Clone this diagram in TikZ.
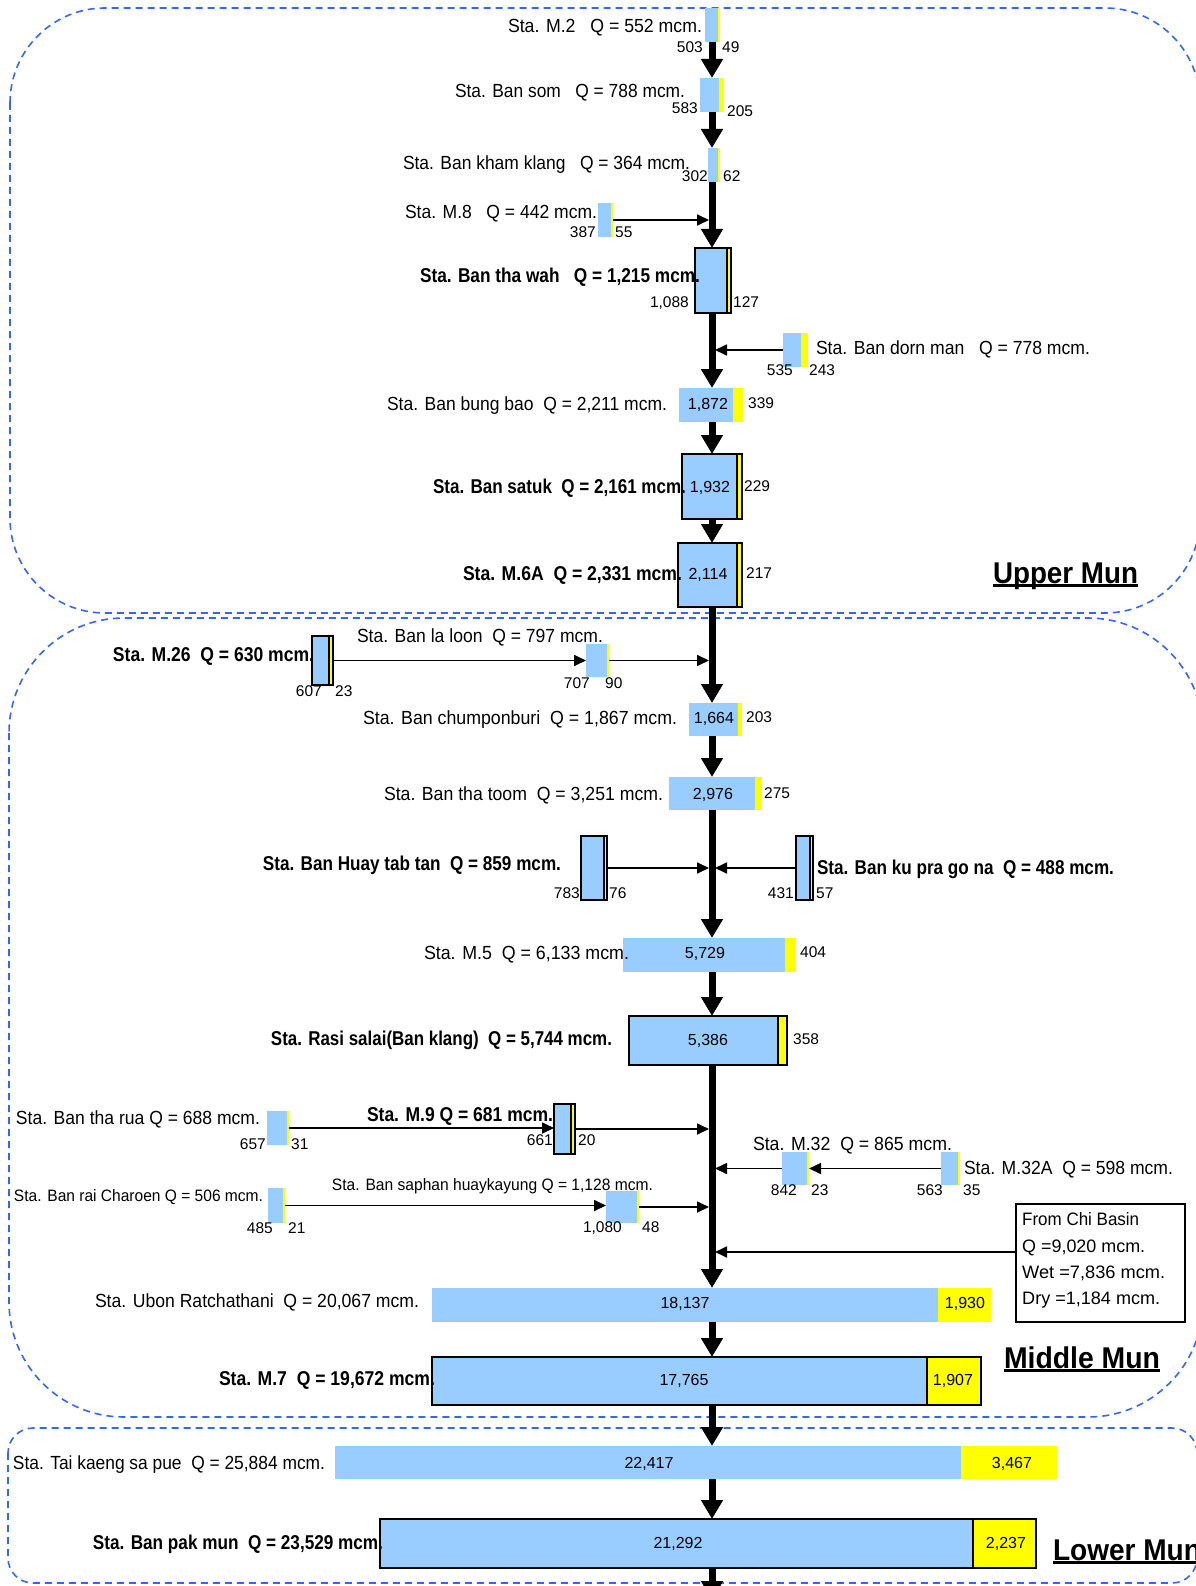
\documentclass[tikz,border=0pt]{standalone}
\usepackage{fontspec}
\setmainfont{Liberation Sans}
\usetikzlibrary{arrows.meta}
\definecolor{barblue}{RGB}{153,204,255}
\definecolor{baryellow}{RGB}{255,255,0}
\definecolor{dashblue}{RGB}{51,102,255}
\newcommand{\fitw}[2]{\resizebox{#1pt}{\height}{#2}}
\newcommand{\flowbox}[7]{%
  \pgfmathsetmacro{\fbA}{(#3+#4)/2}%
  \pgfmathsetmacro{\fbB}{(#6+#7)/2}%
  \pgfmathsetmacro{\fbW}{#4-#3}%
  \pgfmathsetmacro{\fbV}{#5-#4}%
  \pgfmathsetmacro{\fbC}{(#4+#5)/2}%
  \pgfmathsetmacro{\fbH}{#7-#6}%
  \node[bluepart,#2,minimum width=\fbW pt,minimum height=\fbH pt] (#1) at (\fbA,\fbB) {};
  \node[yellowpart,#2,minimum width=\fbV pt,minimum height=\fbH pt] (#1y) at (\fbC,\fbB) {};
}
\tikzset{
  bluepart/.style={rectangle, fill=barblue, inner sep=0pt, outer sep=0pt},
  yellowpart/.style={rectangle, fill=baryellow, inner sep=0pt, outer sep=0pt},
  plainbar/.style={},
  outlined/.style={draw=black, line width=2.2pt},
  lbl/.style={inner sep=0pt, anchor=mid, yshift=-2.5pt, font=\fontsize{19}{22}\selectfont},
  blbl/.style={inner sep=0pt, anchor=mid, yshift=-2.5pt, font=\fontsize{20}{23}\selectfont\bfseries},
  slbl/.style={inner sep=0pt, anchor=mid, yshift=-2.5pt, font=\fontsize{16.5}{19}\selectfont},
  chilbl/.style={inner sep=0pt, anchor=mid west, yshift=-3pt, font=\fontsize{18}{21}\selectfont},
  sidenum/.style={inner sep=0pt, yshift=-1pt, font=\fontsize{15.5}{18}\selectfont},
  barnum/.style={inner sep=0pt, anchor=mid, yshift=-1.5pt, font=\fontsize{16}{18}\selectfont},
  spinearr/.style={line width=7pt, -{Triangle[width=21pt,length=19pt]}},
  thinarr/.style={line width=1.7pt, -{Triangle[width=11pt,length=12pt]}},
  regionline/.style={draw=dashblue, line width=1.6pt, dash pattern=on 7pt off 5pt},
  regionlbl/.style={inner sep=0pt, anchor=mid, yshift=-5pt, font=\fontsize{30}{34}\selectfont\bfseries},
}
\begin{document}
\begin{tikzpicture}[x=1pt,y=-1pt]
\fill[white] (0,0) rectangle (1195,1586);
\useasboundingbox (0,0) rectangle (1195,1586);

% region boxes
\draw[regionline, rounded corners=95pt] (10,8) rectangle (1200,613);
\draw[regionline, rounded corners=115pt] (9,618) rectangle (1203,1417);
\draw[regionline, rounded corners=25pt] (8,1428) rectangle (1197,1583);

\coordinate (sx) at (712,0);

% bars
\flowbox{m2}{plainbar}{705}{718}{720}{8}{42}
\flowbox{bansom}{plainbar}{700}{719}{724}{78}{112}
\flowbox{khamklang}{plainbar}{708}{718}{720}{148}{182}
\flowbox{m8}{plainbar}{598}{611}{613}{203}{237}
\flowbox{thawah}{outlined}{695}{727}{731}{248}{313}
\flowbox{dornman}{plainbar}{783}{801}{808}{333}{367}
\flowbox{bungbao}{plainbar}{679}{733}{743}{388}{422}
\flowbox{satuk}{outlined}{682}{737}{742}{454}{519}
\flowbox{msixa}{outlined}{678}{737}{742}{543}{607}
\flowbox{m26}{outlined}{312}{329}{333}{636}{685}
\flowbox{laloon}{plainbar}{586}{607}{609}{644}{677}
\flowbox{chumpon}{plainbar}{689}{738}{742}{703}{736}
\flowbox{thatoom}{plainbar}{669}{755}{762}{777}{810}
\flowbox{huay}{outlined}{581}{604}{607}{836}{900}
\flowbox{kupra}{outlined}{796}{810}{813}{836}{900}
\flowbox{mfive}{plainbar}{623}{785}{796}{938}{972}
\flowbox{rasi}{outlined}{629}{778}{787}{1016}{1065}
\flowbox{tharua}{plainbar}{267}{287}{289}{1111}{1145}
\flowbox{mnine}{outlined}{554}{571}{575}{1104}{1154}
\flowbox{raich}{plainbar}{268}{283}{285}{1188}{1223}
\flowbox{saphan}{plainbar}{606}{637}{639}{1191}{1223}
\flowbox{m32}{plainbar}{782}{807}{809}{1152}{1185}
\flowbox{m32a}{plainbar}{941}{958}{960}{1152}{1185}
\flowbox{ubon}{plainbar}{432}{938}{991}{1288}{1322}
\flowbox{mseven}{outlined}{432}{927}{981}{1357}{1405}
\flowbox{taikaeng}{plainbar}{335}{961}{1057}{1446}{1479}
\flowbox{pakmun}{outlined}{380}{973}{1036}{1519}{1568}

% Chi basin box
\node[draw=black, line width=1.8pt, minimum width=169pt, minimum height=118pt, inner sep=0pt] (chi) at (1100.5,1263) {};
\node[chilbl] (chi1) at (1022,1220) {\fitw{117}{From Chi Basin}};
\node[chilbl] (chi2) at (1022,1247) {\fitw{123}{Q =9,020 mcm.}};
\node[chilbl] (chi3) at (1022,1273) {\fitw{143}{Wet =7,836 mcm.}};
\node[chilbl] (chi4) at (1022,1299) {\fitw{138}{Dry =1,184 mcm.}};

% spine arrows
\coordinate (endc) at (712,1600);
\draw[spinearr] (m2.south -| sx) -- (bansom.north -| sx);
\draw[spinearr] (bansom.south -| sx) -- (khamklang.north -| sx);
\draw[spinearr] (khamklang.south -| sx) -- (thawah.north -| sx);
\draw[spinearr] (thawah.south -| sx) -- (bungbao.north -| sx);
\draw[spinearr] (bungbao.south -| sx) -- (satuk.north -| sx);
\draw[spinearr] (satuk.south -| sx) -- (msixa.north -| sx);
\draw[spinearr] (msixa.south -| sx) -- (chumpon.north -| sx);
\draw[spinearr] (chumpon.south -| sx) -- (thatoom.north -| sx);
\draw[spinearr] (thatoom.south -| sx) -- (mfive.north -| sx);
\draw[spinearr] (mfive.south -| sx) -- (rasi.north -| sx);
\draw[spinearr] (rasi.south -| sx) -- (ubon.north -| sx);
\draw[spinearr] (ubon.south -| sx) -- (mseven.north -| sx);
\draw[spinearr] (mseven.south -| sx) -- (taikaeng.north -| sx);
\draw[spinearr] (taikaeng.south -| sx) -- (pakmun.north -| sx);
\draw[spinearr] (pakmun.south -| sx) -- (endc);

% tributary arrows
\draw[thinarr, shorten >=3pt] (m8y.east) -- (m8y.east -| sx);
\draw[thinarr, shorten >=3pt] (dornman.west) -- (dornman.west -| sx);
\draw[thinarr] (m26y.east) -- (m26y.east -| laloon.west);
\draw[thinarr, shorten >=3pt] (laloony.east) -- (laloony.east -| sx);
\draw[thinarr, shorten >=3pt] (huayy.east) -- (huayy.east -| sx);
\draw[thinarr, shorten >=3pt] (kupra.west) -- (kupra.west -| sx);
\draw[thinarr] (tharuay.east) -- (tharuay.east -| mnine.west);
\draw[thinarr, shorten >=3pt] (mniney.east) -- (mniney.east -| sx);
\draw[thinarr] (raichy.east) -- (raichy.east -| saphan.west);
\draw[thinarr, shorten >=3pt] (saphany.east) -- (saphany.east -| sx);
\draw[thinarr] (m32a.west) -- (m32a.west -| m32y.east);
\draw[thinarr, shorten >=3pt] (m32.west) -- (m32.west -| sx);
\draw[thinarr, shorten >=3pt] ([yshift=11pt]chi.west) -- ([yshift=11pt]chi.west -| sx);

% station labels
\node[lbl] (lm2) at (605,27) {\fitw{194}{Sta. M.2~~ Q = 552 mcm.}};
\node[lbl] (lbansom) at (570,92) {\fitw{230}{Sta. Ban som~~ Q = 788 mcm.}};
\node[lbl] (lkham) at (546.5,164) {\fitw{287}{Sta. Ban kham klang~~ Q = 364 mcm.}};
\node[lbl] (lm8) at (501,213) {\fitw{192}{Sta. M.8~~ Q = 442 mcm.}};
\node[blbl] (lthawah) at (560,277) {\fitw{280}{Sta. Ban tha wah~~ Q = 1,215 mcm.}};
\node[lbl] (ldorn) at (953,349) {\fitw{274}{Sta. Ban dorn man~~ Q = 778 mcm.}};
\node[lbl] (lbung) at (527,405) {\fitw{280}{Sta. Ban bung bao~ Q = 2,211 mcm.}};
\node[blbl] (lsatuk) at (559.5,488) {\fitw{253}{Sta. Ban satuk~ Q = 2,161 mcm.}};
\node[blbl] (lm6a) at (572.5,575) {\fitw{219}{Sta. M.6A~ Q = 2,331 mcm.}};
\node[blbl] (lm26) at (213.5,656) {\fitw{201}{Sta. M.26~ Q = 630 mcm.}};
\node[lbl] (llaloon) at (480,637) {\fitw{246}{Sta. Ban la loon~ Q = 797 mcm.}};
\node[lbl] (lchum) at (520,719) {\fitw{314}{Sta. Ban chumponburi~ Q = 1,867 mcm.}};
\node[lbl] (ltoom) at (523.5,795) {\fitw{279}{Sta. Ban tha toom~ Q = 3,251 mcm.}};
\node[blbl] (lhuay) at (412,865) {\fitw{298}{Sta. Ban Huay tab tan~ Q = 859 mcm.}};
\node[blbl] (lkupra) at (965.5,869) {\fitw{297}{Sta. Ban ku pra go na~ Q = 488 mcm.}};
\node[lbl] (lm5) at (526.5,954) {\fitw{205}{Sta. M.5~ Q = 6,133 mcm.}};
\node[blbl] (lrasi) at (441.5,1040) {\fitw{341}{Sta. Rasi salai(Ban klang)~ Q = 5,744 mcm.}};
\node[lbl] (ltharua) at (138,1119) {\fitw{244}{Sta. Ban tha rua Q = 688 mcm.}};
\node[blbl] (lm9) at (460,1116) {\fitw{186}{Sta. M.9 Q = 681 mcm.}};
\node[slbl] (lraich) at (138.5,1196) {\fitw{249}{Sta. Ban rai Charoen Q = 506 mcm.}};
\node[slbl] (lsaphan) at (492.5,1185) {\fitw{321}{Sta. Ban saphan huaykayung Q = 1,128 mcm.}};
\node[lbl] (lm32) at (852.5,1145) {\fitw{199}{Sta. M.32~ Q = 865 mcm.}};
\node[lbl] (lm32a) at (1068.5,1169) {\fitw{209}{Sta. M.32A~ Q = 598 mcm.}};
\node[lbl] (lubon) at (257,1302) {\fitw{324}{Sta. Ubon Ratchathani~ Q = 20,067 mcm.}};
\node[blbl] (lm7) at (327,1380) {\fitw{216}{Sta. M.7~ Q = 19,672 mcm.}};
\node[lbl] (ltai) at (169,1464) {\fitw{312}{Sta. Tai kaeng sa pue~ Q = 25,884 mcm.}};
\node[blbl] (lpak) at (238,1544) {\fitw{290}{Sta. Ban pak mun~ Q = 23,529 mcm.}};

% side numbers
\node[sidenum, anchor=mid east] at (703,49) {503};
\node[sidenum, anchor=mid west] at (722,49) {49};
\node[sidenum, anchor=mid east] at (698,110) {583};
\node[sidenum, anchor=mid west] at (727,113) {205};
\node[sidenum, anchor=mid east] at (708,178) {302};
\node[sidenum, anchor=mid west] at (723,178) {62};
\node[sidenum, anchor=mid east] at (596,234) {387};
\node[sidenum, anchor=mid west] at (615,234) {55};
\node[sidenum, anchor=mid east] at (689,304) {1,088};
\node[sidenum, anchor=mid west] at (733,304) {127};
\node[sidenum, anchor=mid east] at (793,372) {535};
\node[sidenum, anchor=mid west] at (809,372) {243};
\node[sidenum, anchor=mid west] at (748,405) {339};
\node[sidenum, anchor=mid west] at (744,488) {229};
\node[sidenum, anchor=mid west] at (746,575) {217};
\node[sidenum, anchor=mid east] at (322,693) {607};
\node[sidenum, anchor=mid west] at (335,693) {23};
\node[sidenum, anchor=mid east] at (590,685) {707};
\node[sidenum, anchor=mid west] at (605,685) {90};
\node[sidenum, anchor=mid west] at (746,719) {203};
\node[sidenum, anchor=mid west] at (764,795) {275};
\node[sidenum, anchor=mid east] at (580,895) {783};
\node[sidenum, anchor=mid west] at (609,895) {76};
\node[sidenum, anchor=mid east] at (794,895) {431};
\node[sidenum, anchor=mid west] at (816,895) {57};
\node[sidenum, anchor=mid west] at (800,954) {404};
\node[sidenum, anchor=mid west] at (793,1041) {358};
\node[sidenum, anchor=mid east] at (266,1146) {657};
\node[sidenum, anchor=mid west] at (291,1146) {31};
\node[sidenum, anchor=mid east] at (553,1142) {661};
\node[sidenum, anchor=mid west] at (578,1142) {20};
\node[sidenum, anchor=mid east] at (273,1230) {485};
\node[sidenum, anchor=mid west] at (288,1230) {21};
\node[sidenum, anchor=mid east] at (622,1229) {1,080};
\node[sidenum, anchor=mid west] at (642,1229) {48};
\node[sidenum, anchor=mid east] at (797,1192) {842};
\node[sidenum, anchor=mid west] at (811,1192) {23};
\node[sidenum, anchor=mid east] at (943,1192) {563};
\node[sidenum, anchor=mid west] at (963,1192) {35};

% numbers inside bars
\node[barnum] at (708,405) {1,872};
\node[barnum] at (710,488) {1,932};
\node[barnum] at (708,575) {2,114};
\node[barnum] at (714,719) {1,664};
\node[barnum] at (713,795) {2,976};
\node[barnum] at (705,954) {5,729};
\node[barnum] at (708,1041) {5,386};
\node[barnum] at (685,1304) {18,137};
\node[barnum] at (965,1304) {1,930};
\node[barnum] at (684,1381) {17,765};
\node[barnum] at (953,1381) {1,907};
\node[barnum] at (649,1464) {22,417};
\node[barnum] at (1012,1464) {3,467};
\node[barnum] at (678,1544) {21,292};
\node[barnum] at (1006,1544) {2,237};

% region labels
\node[regionlbl] (upper) at (1065.5,576) {\fitw{145}{Upper Mun}};
\draw[line width=2.8pt] ([yshift=-2pt]upper.base west) -- ([yshift=-2pt]upper.base east);
\node[regionlbl] (middle) at (1082,1361) {\fitw{156}{Middle Mun}};
\draw[line width=2.8pt] ([yshift=-2pt]middle.base west) -- ([yshift=-2pt]middle.base east);
\node[regionlbl] (lower) at (1127,1553) {\fitw{148}{Lower Mun}};
\draw[line width=2.8pt] ([yshift=-2pt]lower.base west) -- ([yshift=-2pt]lower.base east);
\end{tikzpicture}
\end{document}
